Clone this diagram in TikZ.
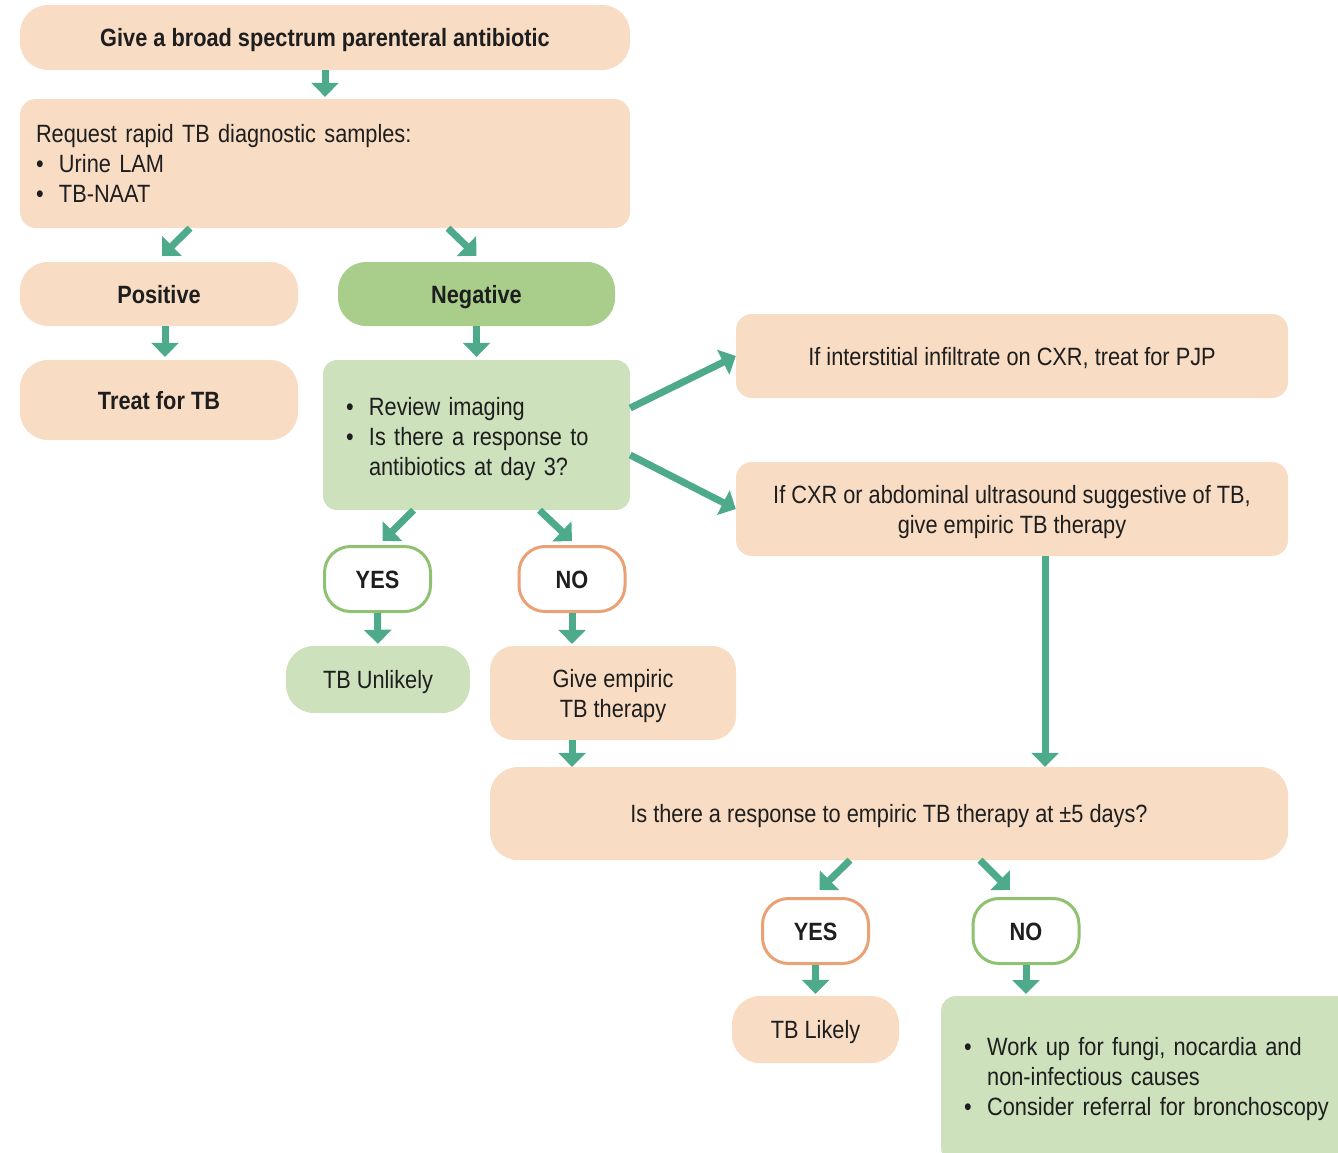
\documentclass[tikz,border=0pt]{standalone}
\usepackage{fontspec}
\setmainfont{Liberation Sans}[FakeStretch=0.87]
\usetikzlibrary{arrows.meta}
\definecolor{peach}{HTML}{F8DCC4}
\definecolor{neggreen}{HTML}{A9CD8B}
\definecolor{lightgreen}{HTML}{CDE1BC}
\definecolor{teal1}{HTML}{4DAA8A}
\definecolor{outgreen}{HTML}{8FC270}
\definecolor{outorange}{HTML}{EAA175}
\definecolor{txt}{HTML}{1E1E1E}
\newcommand{\bul}{\makebox[23pt][l]{•}}
\newcommand{\tstrut}[1]{\rule{0pt}{#1}}
\begin{document}
\begin{tikzpicture}[x=1pt,y=-1pt,
  every node/.style={text=txt, font=\fontsize{25}{30}\selectfont},
  box/.style={rectangle, fill=peach, inner sep=0pt, align=center},
  gbox/.style={box, fill=lightgreen},
  one/.style={text height=18pt, text depth=0pt},
  bold/.style={font=\fontsize{25}{30}\selectfont\bfseries},
  yn/.style={rectangle, fill=white, line width=3pt, rounded corners=26pt, inner sep=0pt,
    minimum width=106pt, minimum height=65pt, bold, one},
  arr/.style={draw=teal1, line width=7pt, -{Triangle[width=27pt,length=14pt]}},
]
\useasboundingbox (0,0) rectangle (1338,1152);
\fill[white] (0,0) rectangle (1338,1152);

\node[box, bold, one, rounded corners=28pt, minimum width=610pt, minimum height=65pt] (b1) at (325,37.5) {Give a broad spectrum parenteral antibiotic};
\node[box, rounded corners=16pt, minimum width=610pt, minimum height=129pt, align=left, text width=578pt, inner xsep=16pt] (b2) at (325,163.5)
  {Request rapid TB diagnostic samples:\\ \bul Urine LAM\\ \bul TB-NAAT};
\node[box, bold, one, rounded corners=28pt, minimum width=278pt, minimum height=64pt] (pos) at (159,294) {Positive};
\node[box, bold, one, fill=neggreen, rounded corners=28pt, minimum width=277pt, minimum height=64pt] (neg) at (476.5,294) {Negative};
\node[box, bold, one, rounded corners=28pt, minimum width=278pt, minimum height=80pt] (treat) at (159,400) {Treat for TB};
\node[gbox, rounded corners=14pt, minimum width=307pt, minimum height=150pt, align=left, text width=261pt, inner xsep=23pt] (review) at (476.5,435)
  {\tstrut{26pt}\bul Review imaging\\ \bul Is there a response to\\ \hspace*{23pt}antibiotics at day 3?};
\node[box, one, rounded corners=16pt, minimum width=552pt, minimum height=84pt] (pjp) at (1012,356) {If interstitial infiltrate on CXR, treat for PJP};
\node[box, rounded corners=16pt, minimum width=552pt, minimum height=94pt] (cxr) at (1012,509) {\tstrut{24pt}If CXR or abdominal ultrasound suggestive of TB,\\give empiric TB therapy};
\node[yn, draw=outgreen] (yes1) at (377.5,579) {YES};
\node[yn, draw=outorange] (no1) at (572,579) {NO};
\node[gbox, one, rounded corners=28pt, minimum width=184pt, minimum height=67pt] (unlikely) at (378,679.5) {TB Unlikely};
\node[box, rounded corners=24pt, minimum width=246pt, minimum height=94pt] (empiric) at (613,693) {\tstrut{24pt}Give empiric\\TB therapy};
\node[box, one, rounded corners=28pt, minimum width=798pt, minimum height=93pt] (big) at (889,813.5) {Is there a response to empiric TB therapy at ±5 days?};
\node[yn, draw=outorange] (yes2) at (815.5,931) {YES};
\node[yn, draw=outgreen] (no2) at (1026,931) {NO};
\node[box, one, rounded corners=28pt, minimum width=167pt, minimum height=67pt] (likely) at (815.5,1029.5) {TB Likely};
\node[gbox, anchor=north west, rounded corners=14pt, minimum width=407pt, minimum height=166pt, align=left, text width=380pt, inner xsep=23pt] (last) at (941,996)
  {\bul Work up for fungi, nocardia and\\ \hspace*{23pt}non-infectious causes\\ \bul Consider referral for bronchoscopy};

\draw[arr, shorten >=2pt] (b1.south) -- (b2.north);
\draw[arr] ([xshift=-135pt]b2.south) -- ([xshift=3pt,yshift=6pt]pos.north);
\draw[arr] ([xshift=123pt]b2.south) -- ([yshift=6pt]neg.north);
\draw[arr, shorten >=3pt] ([xshift=6pt]pos.south) -- ([xshift=6pt]treat.north);
\draw[arr, shorten >=3pt] (neg.south) -- (review.north);
\draw[arr] ([yshift=27pt]review.east) -- (pjp.west);
\draw[arr] ([yshift=-20pt]review.east) -- (cxr.west);
\draw[arr] ([xshift=-63pt]review.south) -- ([xshift=5pt,yshift=4pt]yes1.north);
\draw[arr] ([xshift=63pt]review.south) -- ([yshift=4pt]no1.north);
\draw[arr, shorten >=2pt] (yes1.south) -- (unlikely.north);
\draw[arr, shorten >=2pt] (no1.south) -- (no1.south |- empiric.north);
\coordinate (e1) at ([xshift=-41pt]empiric.south);
\draw[arr] (e1) -- (e1 |- big.north);
\coordinate (c1) at ([xshift=33pt]cxr.south);
\draw[arr] (c1) -- (c1 |- big.north);
\draw[arr] ([xshift=-39pt]big.south) -- ([xshift=4pt,yshift=7pt]yes2.north);
\draw[arr] ([xshift=91pt]big.south) -- ([xshift=-16pt,yshift=7pt]no2.north);
\draw[arr, shorten >=2pt] (yes2.south) -- (likely.north);
\draw[arr, shorten >=2pt] (no2.south) -- (no2.south |- last.north);
\end{tikzpicture}
\end{document}
